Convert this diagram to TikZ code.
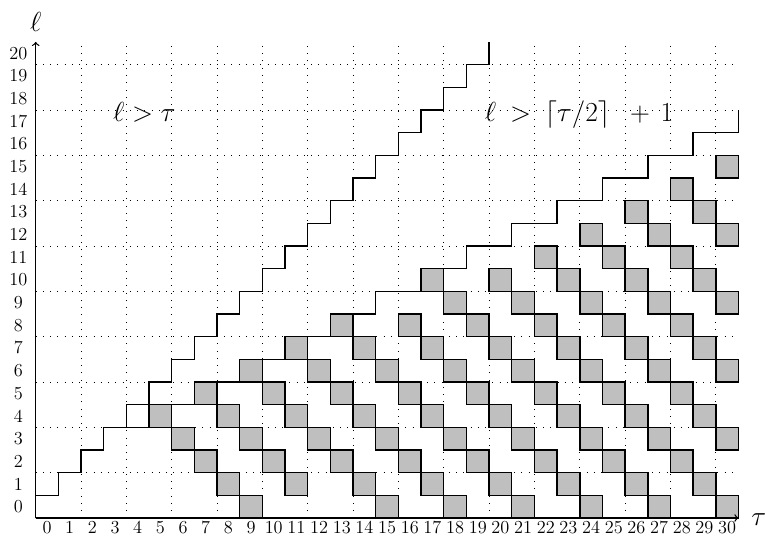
\documentclass[tikz,border=0pt]{standalone}
\begin{document}
\begin{tikzpicture}[x=0.5cm,y=0.5cm,
  gridline/.style={line width=0.4pt, dash pattern=on 0.45pt off 4.1pt},
  cellbox/.style={fill=black!25, draw=black, line width=0.9pt},
  stair/.style={draw=black, line width=0.9pt, line join=miter},
  axisline/.style={line width=0.8pt, ->},
  ticklab/.style={font=\fontsize{11.5}{13}\selectfont, inner sep=0pt},
  biglab/.style={font=\fontsize{17.28}{21}\selectfont, inner sep=0pt}]
\useasboundingbox (-1.575,-1.01) rectangle (32.17,22.85);
% dotted grid
\draw[gridline] (0,0) grid (31,21);
% grey cells along anti-diagonals: sum / first tau / last tau
\foreach \s/\a/\b in {9/5/9,12/7/11,15/9/15,18/11/18,21/13/21,24/16/24,27/17/27,30/20/30,33/22/30,36/24/30,39/26/30,42/28/30,45/30/30}{
  \foreach \t in {\a,...,\b}{
    \pgfmathtruncatemacro\l{\s-\t}
    \draw[cellbox] (\t,\l) rectangle ++(1,1);
  }
}
% upper staircase  l > tau
\draw[stair] (0,1) \foreach \k in {1,...,20}{ -- (\k,\k) -- (\k,\k+1) };
% lower staircase  l > ceil(tau/2)+1
\draw[stair] (3,4) \foreach \k in {2,...,15}{ -- (2*\k+1,\k+2) -- (2*\k+1,\k+3) };
% axes
\coordinate (O) at (0,0);
\coordinate (xend) at (31,0);
\coordinate (yend) at (0,21);
\draw[axisline] (O) -- (xend);
\draw[axisline] (O) -- (yend);
% tick labels
\foreach \i in {0,...,30}{ \node[ticklab] (xl\i) at (\i+0.5,-0.42) {\i}; }
\foreach \j in {0,...,20}{ \node[ticklab] (yl\j) at (-0.76,\j+0.5) {\j}; }
% axis names
\node[biglab] (lname) at (0,21.86) {$\ell$};
\node[biglab] (tname) at (31.9,-0.05) {$\tau$};
% region labels
\node[biglab, anchor=base] (r1) at (4.79,17.48) {$\ell > \tau$};
\node[biglab, anchor=base] (r2) at (23.97,17.48) {$\ell\mkern4mu > \mkern4mu\lceil \tau/2\rceil\mkern9mu + \mkern3mu 1$};
\end{tikzpicture}
\end{document}
